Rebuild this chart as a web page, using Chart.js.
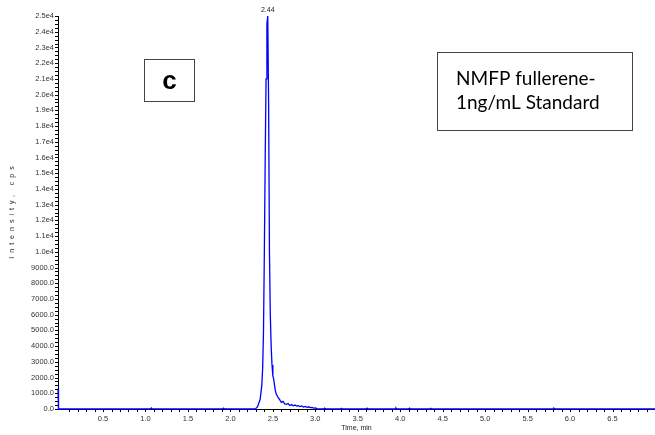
<!DOCTYPE html>
<html>
<head>
<meta charset="utf-8">
<script src="https://cdn.jsdelivr.net/npm/chart.js@4/dist/chart.umd.min.js"></script>
<style>
  body { margin: 0; background: #fff; }
  canvas { display: block; }
</style>
</head>
<body>
<canvas id="xic" width="655" height="435"></canvas>
<script>
// retention time (min) and intensity (cps)
const times = [-0.030, -0.026, -0.022, 1.06, 1.07, 1.08, 1.91, 1.92, 1.93,
  2.28, 2.30, 2.32, 2.33, 2.35, 2.37, 2.38, 2.39, 2.40, 2.41, 2.42, 2.43, 2.44,
  2.45, 2.46, 2.47, 2.48, 2.49, 2.50, 2.51, 2.52, 2.53, 2.54, 2.56, 2.58, 2.60,
  2.62, 2.64, 2.66, 2.68, 2.70, 2.72, 2.74, 2.76, 2.78, 2.80, 2.82, 2.84, 2.86,
  2.88, 2.90, 2.92, 2.94, 2.96, 2.98, 3.00, 3.02, 3.04, 3.10, 3.11, 3.12,
  3.30, 3.31, 3.32, 3.60, 3.61, 3.62, 3.94, 3.95, 3.96, 4.10, 4.11, 4.12,
  4.35, 4.36, 4.37, 5.80, 5.81, 5.82, 7.00];
const intensity = [1300, 1050, 0, 0, 60, 0, 0, 50, 0,
  0, 30, 150, 300, 600, 1500, 2600, 5000, 10000, 16000, 21000, 24500, 25000,
  19500, 10000, 6000, 4000, 2800, 2100, 1900, 1500, 1150, 950, 750, 600, 420,
  480, 330, 300, 350, 220, 280, 200, 250, 180, 210, 150, 190, 120,
  160, 110, 140, 90, 100, 60, 70, 20, 0, 0, 50, 0,
  0, 40, 0, 0, 50, 0, 0, 60, 0, 0, 50, 0,
  0, 40, 0, 0, 50, 0, 0];
const peakLabel = "2.44";
const sampleTag = "c";
const sampleNote = ["NMFP fullerene-", "1ng/mL Standard"];

const tickFont = { family: "Liberation Sans, Arial, sans-serif", size: 7.5 };

// small outward tick marks on both axes, titles and annotation boxes
const axisTicks = {
  id: "axisTicks",
  afterDraw(chart) {
    const { ctx, scales: { x, y }, chartArea: a } = chart;
    ctx.save();
    ctx.strokeStyle = "#000";
    ctx.lineWidth = 1;
    ctx.beginPath();
    for (let i = 1; i <= 70; i++) {
      const px = Math.round(x.getPixelForValue(i / 10)) + 0.5;
      ctx.moveTo(px, a.bottom);
      ctx.lineTo(px, a.bottom + 3);
    }
    for (let i = 0; i <= 100; i++) {
      const py = Math.round(y.getPixelForValue(i * 250)) + 0.5;
      ctx.moveTo(a.left - 3, py);
      ctx.lineTo(a.left, py);
    }
    ctx.stroke();

    // axis titles
    ctx.fillStyle = "#222";
    ctx.font = "7px Liberation Sans, Arial, sans-serif";
    ctx.textAlign = "center";
    ctx.textBaseline = "middle";
    ctx.fillText("Time, min", (a.left + a.right) / 2, 428);
    ctx.translate(12, (a.top + a.bottom) / 2);
    ctx.rotate(-Math.PI / 2);
    ctx.letterSpacing = "4px";
    ctx.fillText("Intensity, cps", 2, 0);
    ctx.restore();

    // apex label
    ctx.save();
    const top = intensity.indexOf(Math.max(...intensity));
    ctx.fillStyle = "#222";
    ctx.font = "7px Liberation Sans, Arial, sans-serif";
    ctx.textAlign = "center";
    ctx.textBaseline = "bottom";
    ctx.fillText(peakLabel, x.getPixelForValue(times[top]), y.getPixelForValue(intensity[top]) - 2);

    // boxes
    ctx.strokeStyle = "#444";
    ctx.lineWidth = 1;
    ctx.strokeRect(144.5, 59.5, 50, 42);
    ctx.fillStyle = "#000";
    ctx.font = "bold 26px Liberation Sans, Arial, sans-serif";
    ctx.textAlign = "center";
    ctx.textBaseline = "middle";
    ctx.fillText(sampleTag, 169.5, 82);

    ctx.strokeRect(437.5, 52.5, 195, 78);
    ctx.font = "19px Lato, Carlito, sans-serif";
    ctx.textAlign = "left";
    ctx.textBaseline = "alphabetic";
    ctx.fillText(sampleNote[0], 456, 85);
    ctx.fillText(sampleNote[1], 456, 109);
    ctx.restore();
  }
};

new Chart(document.getElementById("xic"), {
  type: "scatter",
  data: {
    datasets: [{
      data: times.map((t, i) => ({ x: t, y: intensity[i] })),
      showLine: true,
      borderColor: "#0000ff",
      borderWidth: 1.3,
      pointRadius: 0,
      tension: 0,
      clip: 3,
    }],
  },
  options: {
    responsive: false,
    animation: false,
    devicePixelRatio: 1,
    layout: { autoPadding: false, padding: { top: 16, right: 0, left: 0, bottom: 0 } },
    plugins: { legend: { display: false }, tooltip: { enabled: false } },
    scales: {
      x: {
        type: "linear",
        min: -0.03,
        max: 7,
        afterFit: (s) => { s.height = 26; },
        afterBuildTicks: (s) => {
          const t = [];
          for (let i = 1; i <= 13; i++) t.push({ value: i / 2 });
          s.ticks = t;
        },
        grid: { display: false, drawTicks: false },
        border: { display: true, color: "#000", width: 1 },
        ticks: {
          padding: 5,
          color: "#333",
          font: tickFont,
          maxRotation: 0,
          autoSkip: false,
          callback: (v) => v.toFixed(1),
        },
      },
      y: {
        min: 0,
        max: 25000,
        afterFit: (s) => { s.width = 58; },
        grid: { display: false, drawTicks: false },
        border: { display: true, color: "#000", width: 1 },
        ticks: {
          stepSize: 1000,
          padding: 4,
          color: "#333",
          font: tickFont,
          autoSkip: false,
          callback: (v) => (v >= 10000 ? (v / 10000).toFixed(1) + "e4" : v.toFixed(1)),
        },
      },
    },
  },
  plugins: [axisTicks],
});
</script>
</body>
</html>
